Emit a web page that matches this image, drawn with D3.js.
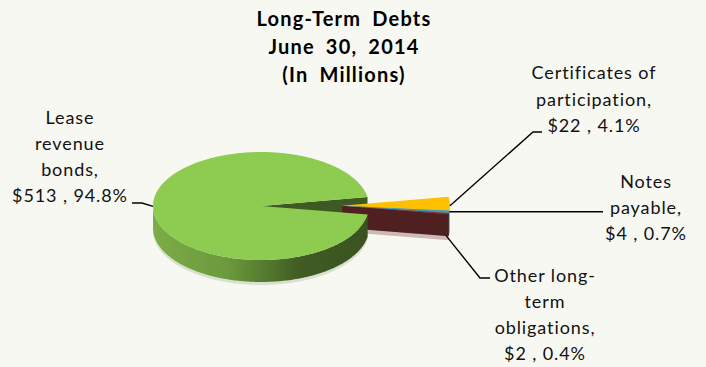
<!DOCTYPE html>
<html>
<head>
<meta charset="utf-8">
<script src="https://cdn.jsdelivr.net/npm/d3@7"></script>
<style>
  html, body { margin: 0; padding: 0; background: #f8f8f3; }
  svg { display: block; }
</style>
</head>
<body>
<svg id="chart" width="706" height="367"></svg>
<script>
// ---- data ----
const categories = ["Lease revenue bonds", "Certificates of participation", "Notes payable", "Other long-term obligations"];
const amounts = [513, 22, 4, 2];
const explodedFlags = [false, true, true, true];
const labelLines = [
  ["Lease", "revenue", "bonds,"],
  ["Certificates of", "participation,"],
  ["Notes", "payable,"],
  ["Other long-", "term", "obligations,"]
];
const titleLines = ["Long-Term Debts", "June 30, 2014", "(In Millions)"];

// ---- layout & style ----
const W = 706, H = 367;
const cx = 261, cy = 206, R = 108, tilt = 0.5, depth = 22, explodeDist = 81;
const startDeg = 99;                       // where the first slice begins (d3.pie angle, degrees)
const topFill  = ["#8ecc51", "#ffc000", "#3e9dc2", "#8e2f2f"];
const rimFill  = [null, "#d8a200", "#7cc6de", "#5a2424"];
const endFill  = ["#3e5a22", "#c99600", "#2f7f9e", "#4f2020"];
const shadowFill = ["#d9e0cf", null, null, "#cfb8b8"];
const labelFont = "Lato, 'Open Sans', sans-serif";

// label blocks: centre x, first baseline, line step, leader path generator
const labelLayout = [
  { x: 70,  y: 124, step: 26,   leader: a => [[132, 203], [142, 203], a] },
  { x: 594, y: 79,  step: 26.5, leader: a => [[542, 132], [533, 132], a] },
  { x: 646, y: 188, step: 26,   leader: a => [[603, a[1]], a] },
  { x: 545, y: 282, step: 26,   leader: a => [[490, 278], [480, 278], a] }
];

const svg = d3.select("#chart");
svg.append("rect").attr("width", W).attr("height", H).attr("fill", "#f8f8f3");

const defs = svg.append("defs");
const grad = defs.append("linearGradient")
  .attr("id", "greenRim").attr("gradientUnits", "userSpaceOnUse")
  .attr("x1", cx - R).attr("x2", cx + R).attr("y1", 0).attr("y2", 0);
[[0, "#7bad46"], [0.35, "#6b993c"], [0.68, "#405c23"], [1, "#3a5220"]]
  .forEach(([o, c]) => grad.append("stop").attr("offset", o).attr("stop-color", c));

// ---- pie angles ----
const total = d3.sum(amounts);
const pct = d3.format(".1%");
const arcs = d3.pie().sort(null).value(d => d)
  .startAngle(startDeg * Math.PI / 180)
  .endAngle(startDeg * Math.PI / 180 + 2 * Math.PI)(amounts)
  .map((a, i) => ({
    i,
    value: a.value,
    t0: a.startAngle - Math.PI / 2,          // screen angle, 0 = right, clockwise
    t1: a.endAngle - Math.PI / 2,
    exploded: explodedFlags[i]
  }));

// exploded slices move together along the bisector of their combined span
const ex = arcs.filter(a => a.exploded);
const exMid = (d3.min(ex, a => a.t0) + d3.max(ex, a => a.t1)) / 2;
const exOff = { x: explodeDist * Math.cos(exMid), y: explodeDist * Math.sin(exMid) };
arcs.forEach(a => { a.off = a.exploded ? exOff : { x: 0, y: 0 }; });

// projection of a point on the tilted disc
const P = (a, t, r, z) => [cx + a.off.x + r * Math.cos(t), cy + tilt * (a.off.y + r * Math.sin(t)) + z];
const samples = (t0, t1) => {
  const n = Math.max(2, Math.ceil(Math.abs(t1 - t0) / (Math.PI / 180)));
  return d3.range(n + 1).map(k => t0 + (t1 - t0) * k / n);
};
const line = d3.line().curve(d3.curveLinearClosed);

const topPath = a => line([P(a, 0, 0, 0), ...samples(a.t0, a.t1).map(t => P(a, t, R, 0))]);
// visible (front-facing) part of the curved side, between heights z0 and z1
const rimParts = (a, z0, z1) => {
  const out = [];
  for (let k = -1; k <= 2; k++) {
    const lo = Math.max(a.t0, 2 * Math.PI * k), hi = Math.min(a.t1, 2 * Math.PI * k + Math.PI);
    if (lo < hi) {
      const ts = samples(lo, hi);
      out.push(line([...ts.map(t => P(a, t, R, z0)), ...ts.slice().reverse().map(t => P(a, t, R, z1))]));
    }
  }
  return out;
};
const radialWall = (a, t, z0, z1) => line([P(a, t, 0, z0), P(a, t, R, z0), P(a, t, R, z1), P(a, t, 0, z1)]);
const endVisible = a => Math.cos(a.t1) > 0;

const green = arcs[0];
const pie = svg.append("g");

// 0. faint shadow fringe under the sides
rimParts(green, depth - 1, depth + 3).forEach(d => pie.append("path").attr("d", d).attr("fill", shadowFill[0]));
pie.append("path").attr("d", radialWall(arcs[3], arcs[3].t1, depth - 1, depth + 4)).attr("fill", shadowFill[3]);

// 1. cut face of the large slice seen through the gap
if (endVisible(green)) pie.append("path").attr("d", radialWall(green, green.t1, 0, depth)).attr("fill", endFill[0]);

// 2. side faces of the pulled-out slices
ex.forEach(a => {
  rimParts(a, 0, depth).forEach(d => pie.append("path").attr("d", d).attr("fill", rimFill[a.i]));
  if (endVisible(a)) pie.append("path").attr("d", radialWall(a, a.t1, 0, depth)).attr("fill", endFill[a.i]);
});

// 3. rounded side of the large slice
rimParts(green, 0, depth).forEach(d => pie.append("path").attr("d", d).attr("fill", "url(#greenRim)"));

// 4. top faces
pie.append("path").attr("d", topPath(green)).attr("fill", topFill[0]);
ex.forEach(a => pie.append("path").attr("d", topPath(a)).attr("fill", topFill[a.i]));

// ---- leader anchors, taken from the slice geometry ----
const mid = a => (a.t0 + a.t1) / 2;
const anchors = [
  P(green, mid(green), R, 0),
  P(arcs[1], mid(arcs[1]) + 0.04, R, 0),
  P(arcs[2], mid(arcs[2]), R, 0),
  P(arcs[3], mid(arcs[3]), R - 3, depth)
];

const labels = svg.append("g")
  .attr("font-family", labelFont).attr("font-size", 18)
  .attr("letter-spacing", 0.9).attr("fill", "#111");
arcs.forEach((a, i) => {
  const L = labelLayout[i];
  svg.append("path")
    .attr("d", d3.line()(L.leader(anchors[i])))
    .attr("fill", "none").attr("stroke", "#000").attr("stroke-width", 1.4);
  const lines = [...labelLines[i], `$${a.value} , ${pct(a.value / total)}`];
  const t = labels.append("text").attr("text-anchor", "middle");
  lines.forEach((s, k) => t.append("tspan").attr("x", L.x).attr("y", L.y + k * L.step).text(s));
});

// ---- title ----
const title = svg.append("text").attr("text-anchor", "middle")
  .attr("font-family", labelFont).attr("font-weight", "bold").attr("font-size", 20)
  .attr("letter-spacing", 1.2).attr("word-spacing", 5).attr("fill", "#000");
titleLines.forEach((s, k) => title.append("tspan").attr("x", 344).attr("y", 26 + k * 28).text(s));
</script>
</body>
</html>
